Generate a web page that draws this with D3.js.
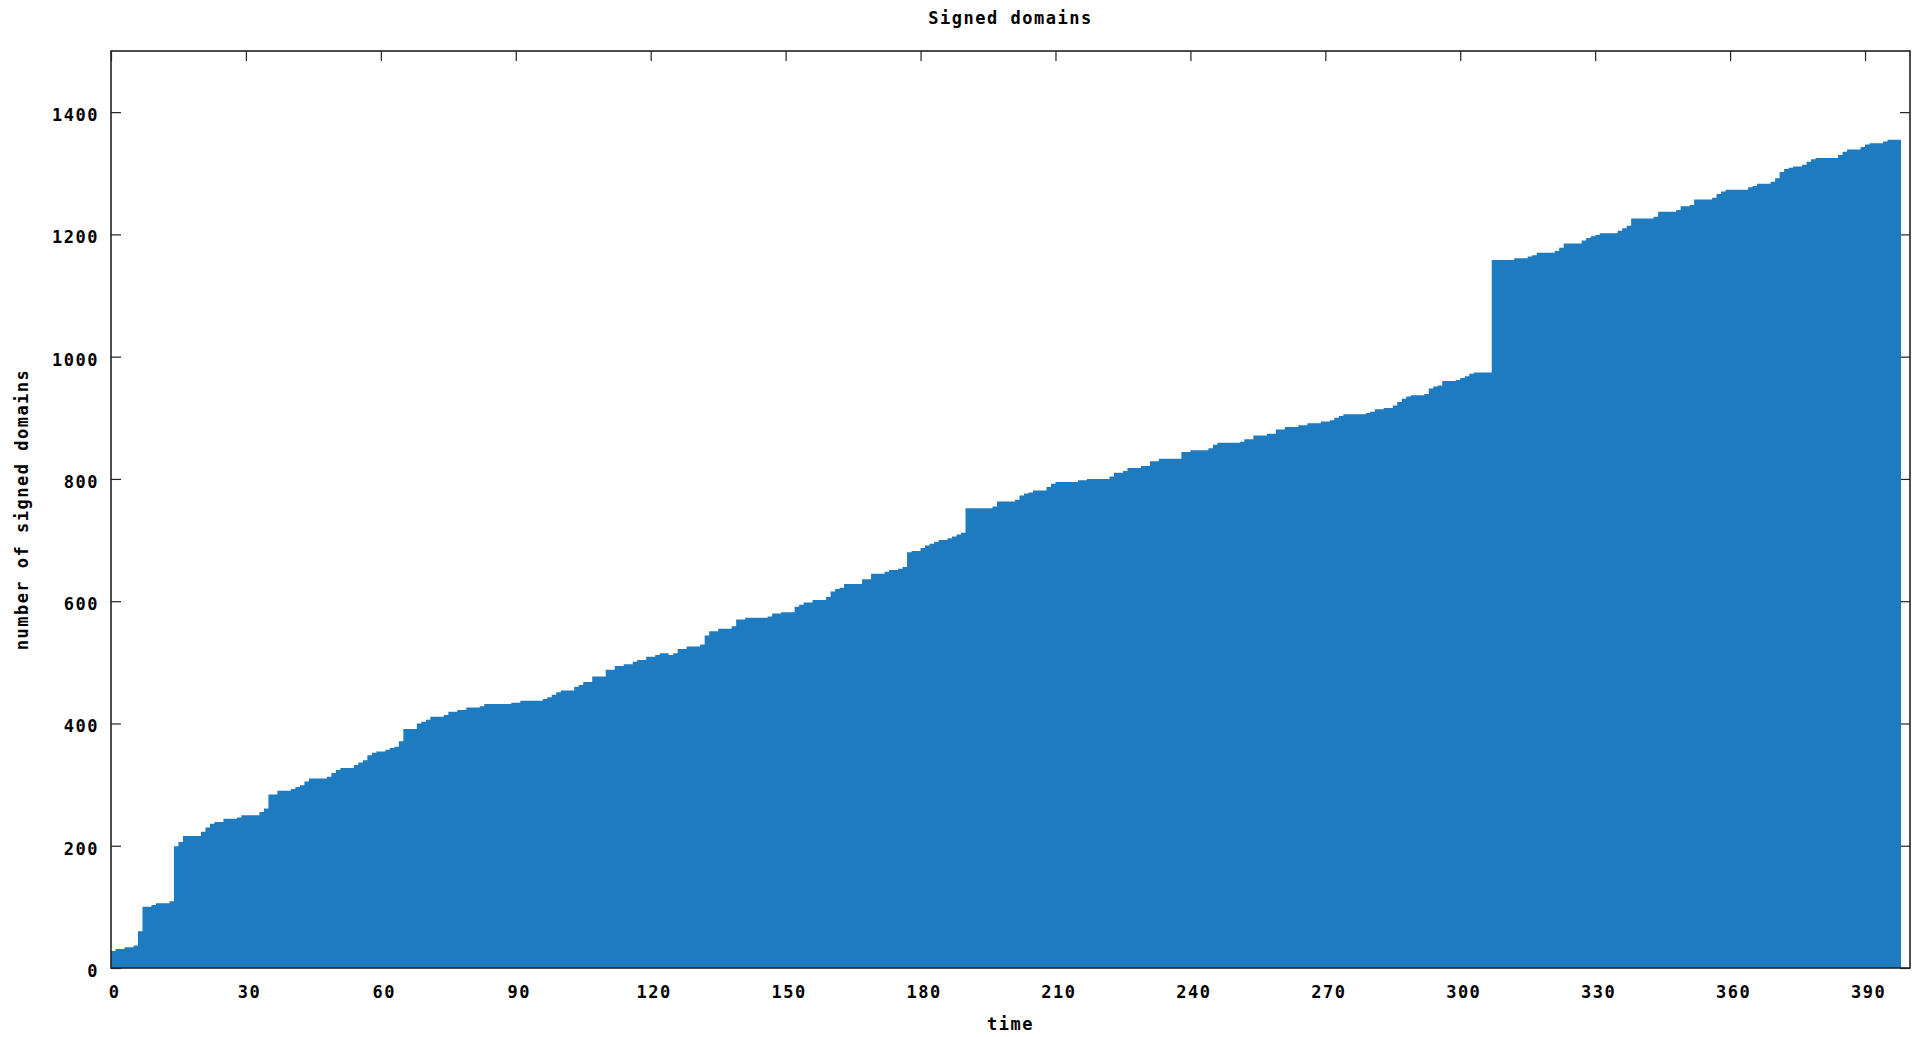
<!DOCTYPE html>
<html>
<head>
<meta charset="utf-8">
<script src="https://cdn.jsdelivr.net/npm/d3@7"></script>
<style>
  body { margin: 0; background: #fff; }
  text { font-family: "DejaVu Sans Mono", monospace; font-weight: bold; fill: #000; letter-spacing: 1.5px; }
</style>
</head>
<body>
<div id="chart"></div>
<script>
// time at which the count changes, and the count from that time on
const changeTimes = [0, 1, 3, 5, 6, 7, 9, 10, 13, 14, 15, 16, 20, 21, 22, 23, 25, 28, 29, 33, 34, 35, 37, 40, 41, 42, 43, 44, 48, 49,
  50, 51, 54, 55, 56, 57, 58, 59, 61, 62, 63, 64, 65, 68, 69, 70, 71, 74, 75, 77, 79, 82, 83, 89, 91, 96, 97, 98, 99,
  100, 103, 104, 105, 107, 110, 112, 114, 116, 117, 119, 121, 122, 124, 125, 126, 128, 131, 132, 133, 135, 138, 139, 141, 146, 147, 149,
  152, 153, 154, 156, 159, 160, 161, 162, 163, 167, 169, 172, 173, 175, 176, 177, 178, 180, 181, 182, 183, 184, 186, 187, 188, 189,
  190, 196, 197, 201, 202, 203, 204, 205, 208, 209, 210, 215, 217, 222, 223, 225, 226, 229, 231, 233, 238, 240, 244, 245, 246,
  251, 252, 254, 257, 259, 261, 264, 266, 269, 271, 272, 273, 274, 279, 280, 281, 283, 285, 286, 287, 288, 289, 292, 293, 294, 295, 296, 299,
  300, 301, 302, 303, 307, 312, 315, 316, 317, 321, 322, 323, 327, 328, 329, 330, 331, 335, 336, 337, 338, 343, 344, 348, 349,
  351, 352, 356, 357, 358, 359, 364, 365, 366, 369, 370, 371, 372, 373, 374, 376, 377, 378, 379, 384, 385, 386, 389, 390, 391, 394, 395];
const signedCounts = [28, 31, 34, 37, 60, 100, 103, 106, 109, 199, 206, 216, 223, 230, 236, 239, 244, 246, 250, 255, 261, 284, 290, 293, 296, 299, 305, 310, 313, 319,
  324, 327, 332, 336, 340, 348, 352, 354, 357, 360, 362, 371, 391, 400, 403, 406, 411, 414, 419, 422, 426, 428, 432, 434, 437, 440, 443, 447, 451,
  454, 460, 463, 468, 477, 488, 494, 497, 501, 504, 509, 512, 515, 512, 515, 522, 526, 529, 544, 551, 555, 559, 570, 573, 575, 580, 582,
  591, 594, 598, 602, 607, 616, 620, 622, 628, 636, 645, 648, 651, 653, 656, 680, 682, 687, 691, 694, 697, 700, 703, 706, 709, 712,
  752, 755, 763, 766, 773, 776, 778, 781, 787, 792, 795, 798, 800, 804, 810, 813, 818, 821, 829, 833, 844, 847, 850, 856, 859,
  861, 865, 871, 874, 881, 885, 888, 891, 894, 896, 900, 903, 906, 908, 910, 914, 916, 920, 926, 931, 935, 937, 939, 948, 951, 953, 960, 962,
  965, 968, 972, 974, 1158, 1161, 1164, 1166, 1170, 1173, 1178, 1185, 1190, 1194, 1197, 1199, 1202, 1206, 1210, 1214, 1226, 1229, 1237, 1240, 1246,
  1248, 1257, 1260, 1266, 1270, 1273, 1277, 1279, 1283, 1286, 1292, 1302, 1307, 1309, 1311, 1314, 1319, 1323, 1325, 1330, 1335, 1339, 1343, 1347, 1349, 1352, 1355];
const lastTime = 398;
const xTicks = [0, 30, 60, 90, 120, 150, 180, 210, 240, 270, 300, 330, 360, 390];
const yTicks = [0, 200, 400, 600, 800, 1000, 1200, 1400];

const W = 1918, H = 1037;
const margin = { top: 51, right: 8, bottom: 69, left: 111 };
const width = W - margin.left - margin.right;
const height = H - margin.top - margin.bottom;

const svg = d3.select("#chart").append("svg")
  .attr("width", W)
  .attr("height", H);
const g = svg.append("g")
  .attr("transform", "translate(" + margin.left + "," + margin.top + ")");

const x = d3.scaleLinear().domain([0, 400]).range([0, width]);
const y = d3.scaleLinear().domain([0, 1500]).range([height, 0]);

const pts = changeTimes.map((t, i) => ({ t: t, v: signedCounts[i] }));
pts.push({ t: lastTime, v: signedCounts[signedCounts.length - 1] });

// ticks, all inward
const tickLen = 10;
function styleAxis(sel) {
  sel.select(".domain").remove();
  sel.selectAll(".tick line").attr("stroke", "#222").attr("stroke-width", 1.2);
  sel.selectAll(".tick text").style("font-size", "17px").attr("fill", "#000");
}
g.append("g")
  .attr("transform", "translate(0," + height + ")")
  .call(d3.axisBottom(x).tickValues(xTicks).tickFormat(d3.format("d")).tickSize(-tickLen).tickPadding(18))
  .call(styleAxis)
  .call(s => s.selectAll(".tick text").attr("dx", 3).attr("dy", "0.71em"));
g.append("g")
  .call(d3.axisLeft(y).tickValues(yTicks).tickFormat(d3.format("d")).tickSize(-tickLen).tickPadding(12))
  .call(styleAxis)
  .call(s => s.selectAll(".tick text").attr("dy", "0.5em"));
g.append("g")
  .call(d3.axisTop(x).tickValues(xTicks).tickSize(-tickLen).tickFormat(""))
  .call(styleAxis);
g.append("g")
  .attr("transform", "translate(" + width + ",0)")
  .call(d3.axisRight(y).tickValues(yTicks).tickSize(-tickLen).tickFormat(""))
  .call(styleAxis);

// filled steps
const area = d3.area()
  .x(d => x(d.t))
  .y0(y(0))
  .y1(d => y(d.v))
  .curve(d3.curveStepAfter);
g.append("path")
  .datum(pts)
  .attr("d", area)
  .attr("fill", "#1f7bbf");

// border
g.append("rect")
  .attr("width", width)
  .attr("height", height)
  .attr("fill", "none")
  .attr("stroke", "#222")
  .attr("stroke-width", 1.6);

svg.append("text")
  .attr("x", margin.left + width / 2)
  .attr("y", 24)
  .attr("text-anchor", "middle")
  .style("font-size", "17px")
  .text("Signed domains");

svg.append("text")
  .attr("x", margin.left + width / 2)
  .attr("y", 1030)
  .attr("text-anchor", "middle")
  .style("font-size", "17px")
  .text("time");

svg.append("text")
  .attr("transform", "translate(28," + (margin.top + height / 2) + ") rotate(-90)")
  .attr("text-anchor", "middle")
  .style("font-size", "17px")
  .text("number of signed domains");
</script>
</body>
</html>
